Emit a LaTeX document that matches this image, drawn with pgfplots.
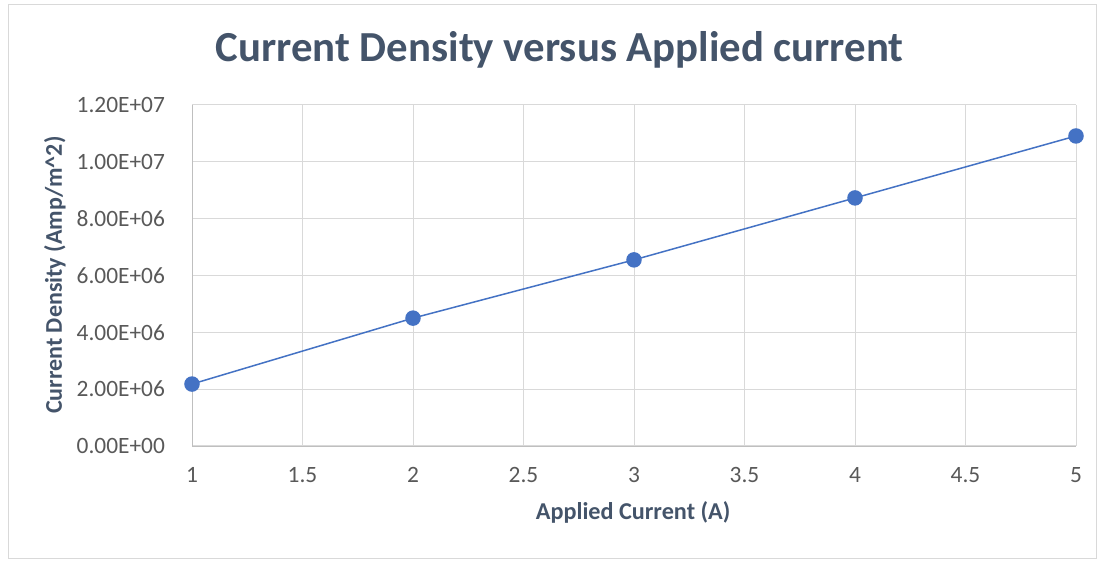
\documentclass[border=0pt]{standalone}
\usepackage{pgfplots}
\pgfplotsset{compat=1.18}
\usepackage{fontspec}
\setmainfont{Carlito}
\definecolor{titlec}{HTML}{44546A}
\definecolor{tickc}{HTML}{595959}
\definecolor{gridc}{HTML}{D9D9D9}
\definecolor{axisc}{HTML}{BFBFBF}
\definecolor{serc}{HTML}{4472C4}
\begin{document}
\begin{tikzpicture}
\fill[white] (0,0) rectangle (552pt,281pt);
\useasboundingbox (0,0) rectangle (552pt,281pt);
\draw[gray!30] (4pt,2pt) rectangle (548pt,279pt);
\begin{axis}[
    at={(96pt,58pt)}, anchor=south west,
    scale only axis, width=442pt, height=170.5pt,
    xmin=1, xmax=5, ymin=0, ymax=1.2e7,
    scaled y ticks=false,
    xtick={1,1.5,...,5},
    xticklabels={1,1.5,2,2.5,3,3.5,4,4.5,5},
    ytick={0,2e6,4e6,6e6,8e6,1e7,1.2e7},
    yticklabels={0.00E+00,2.00E+06,4.00E+06,6.00E+06,8.00E+06,1.00E+07,1.20E+07},
    axis lines=left, axis line style={draw=axisc, -},
    grid=major, grid style={draw=gridc, line width=0.5pt},
    major tick length=0pt,
    tick label style={font=\fontsize{11.7}{13}\selectfont, text=tickc},
    xticklabel style={yshift=-7pt},
    yticklabel style={xshift=-10pt},
    title={Current Density versus Applied current},
    every axis title shift=0pt,
    title style={font=\fontsize{21.4}{24}\selectfont\bfseries, text=titlec,
        at={(axis description cs:0.416,1.129)}, anchor=base},
    xlabel={Applied Current (A)},
    xlabel style={font=\fontsize{12.1}{14}\selectfont\bfseries, text=titlec,
        at={(axis description cs:0.499,-0.194)}, anchor=center},
    ylabel={Current Density (Amp/m\textasciicircum 2)},
    ylabel style={font=\fontsize{12}{14}\selectfont\bfseries, text=titlec,
        at={(axis description cs:-0.155,0.501)}, anchor=center},
]
\addplot[color=serc, line width=0.75pt, mark=*, mark size=3.5pt,
    mark options={fill=serc, draw=serc}] coordinates {
    (1,2.18e6) (2,4.50e6) (3,6.55e6) (4,8.73e6) (5,1.091e7)
};
\end{axis}
\end{tikzpicture}
\end{document}
